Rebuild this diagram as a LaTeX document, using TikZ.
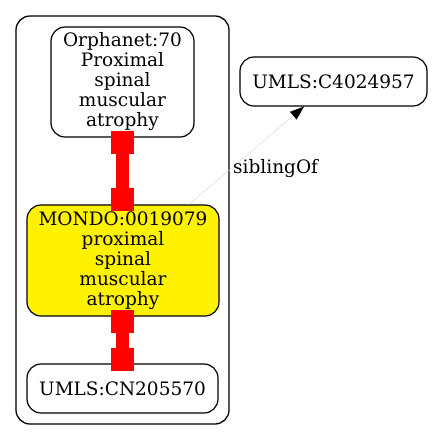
\documentclass[tikz,border=0pt]{standalone}
\usepackage{fontspec}
\setmainfont{DejaVu Serif}
\usetikzlibrary{arrows.meta}
\begin{document}
\begin{tikzpicture}[x=1pt,y=-1pt,
  term/.style={draw=black, line width=1.2pt, rounded corners=14pt, align=center, inner sep=0pt, font=\fontsize{18.5}{20}\selectfont},
  redbox/.style={fill=red, draw=none, minimum width=23pt, minimum height=23pt, inner sep=0pt},
  redstem/.style={draw=red, line width=13pt},
  sib/.style={draw=black!15, line width=0.5pt, -{Triangle[length=14pt,width=10pt,color=black]}},
  lbl/.style={font=\fontsize{18.5}{20}\selectfont, inner sep=0pt}]
\useasboundingbox (0,0) rectangle (432,440);
\draw[line width=1.3pt, rounded corners=14pt] (16,16) rectangle (229,424);
\node[term, minimum width=143pt, minimum height=110pt] (orph) at (122.5,82) {Orphanet:70\\Proximal\\spinal\\muscular\\atrophy};
\node[term, fill=yellow, minimum width=192pt, minimum height=111pt] (mondo) at (123,260.5) {MONDO:0019079\\proximal\\spinal\\muscular\\atrophy};
\node[term, minimum width=191pt, minimum height=49pt] (cn) at (122.5,388.5) {UMLS:CN205570};
\node[term, minimum width=187pt, minimum height=49pt] (c4) at (333.5,81.5) {UMLS:C4024957};
\draw[sib] (mondo) -- (c4);
\node[lbl, anchor=west] (sl) at (233,169) {siblingOf};
\node[redbox] (r1a) at (122.5,142.5) {};
\node[redbox] (r1b) at (122.5,199.5) {};
\draw[redstem] (r1a) -- (r1b);
\node[redbox] (r2a) at (122.5,321.5) {};
\node[redbox] (r2b) at (122.5,359.5) {};
\draw[redstem] (r2a) -- (r2b);
\end{tikzpicture}
\end{document}
